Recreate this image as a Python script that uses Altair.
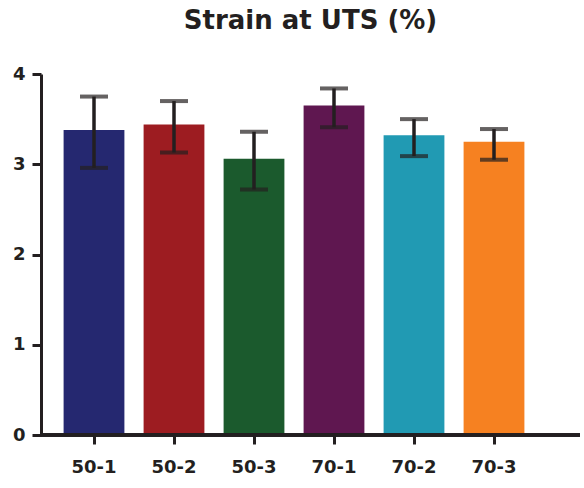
import altair as alt
import pandas as pd

# Sample groups, mean strain at UTS and error-bar limits (%)
groups = ["50-1", "50-2", "50-3", "70-1", "70-2", "70-3"]
means = [3.38, 3.44, 3.06, 3.65, 3.32, 3.25]
lower = [2.96, 3.13, 2.72, 3.41, 3.09, 3.05]
upper = [3.75, 3.70, 3.36, 3.84, 3.50, 3.39]
colors = ["#252870", "#9d1c21", "#1b5a2d", "#5f1750", "#219ab3", "#f68121"]
y_ticks = [0, 1, 2, 3, 4]

df = pd.DataFrame({"group": groups, "mean": means, "lo": lower, "hi": upper})

INK = "#231f20"
FONT = "DejaVu Sans"
W, H = 539, 361

x_scale = alt.Scale(domain=groups, range=[13, 493], paddingInner=0.24, paddingOuter=0.12)
y_scale = alt.Scale(domain=[0, 4], nice=False, zero=True)

x_enc = alt.X(
    "group:N",
    scale=x_scale,
    sort=groups,
    axis=alt.Axis(
        title=None, domain=False, labelAngle=0, labelFont=FONT, labelFontWeight="bold",
        labelFontSize=18, labelColor=INK, labelPadding=14, tickColor=INK, tickWidth=3,
        tickSize=9,
    ),
)
y_enc = alt.Y(
    "mean:Q",
    scale=y_scale,
    axis=alt.Axis(
        title=None, values=y_ticks, format="d", grid=False, labelFont=FONT,
        labelFontWeight="bold", labelFontSize=18, labelColor=INK, labelPadding=7,
        tickColor=INK, tickWidth=3, tickSize=9, domainColor=INK, domainWidth=3,
    ),
)

bars = alt.Chart(df).mark_bar(strokeWidth=0).encode(
    x=x_enc,
    y=y_enc,
    color=alt.Color("group:N", scale=alt.Scale(domain=groups, range=colors), legend=None),
)

whisker = alt.Chart(df).mark_rule(color=INK, strokeWidth=3.5).encode(
    x=alt.X("group:N", scale=x_scale, sort=groups),
    y=alt.Y("lo:Q", scale=y_scale),
    y2="hi:Q",
)
cap_hi = alt.Chart(df).mark_tick(color=INK, thickness=4, size=28).encode(
    x=alt.X("group:N", scale=x_scale, sort=groups),
    y=alt.Y("hi:Q", scale=y_scale),
)
cap_lo = alt.Chart(df).mark_tick(color=INK, thickness=4, size=28).encode(
    x=alt.X("group:N", scale=x_scale, sort=groups),
    y=alt.Y("lo:Q", scale=y_scale),
)

# Baseline spanning the full plot width
baseline = alt.Chart(df).mark_rule(color=INK, strokeWidth=3).encode(
    x=alt.value(0), x2=alt.value(W), y=alt.value(H)
)

chart = (
    alt.layer(bars, whisker, cap_hi, cap_lo, baseline)
    .properties(
        width=W,
        height=H,
        view=alt.ViewBackground(strokeOpacity=0, strokeWidth=0),
        autosize=alt.AutoSizeParams(type="none"),
        padding={"left": 41, "top": 74, "right": 4, "bottom": 53},
        title=alt.TitleParams(
            "Strain at UTS (%)", font=FONT, fontSize=26, fontWeight="bold",
            color=INK, anchor="middle", offset=31,
        ),
    )
    .configure_view(strokeWidth=0, stroke="transparent")
    .configure(background="white")
)

chart.save("out.html", embed_options={"renderer": "svg", "actions": False})
